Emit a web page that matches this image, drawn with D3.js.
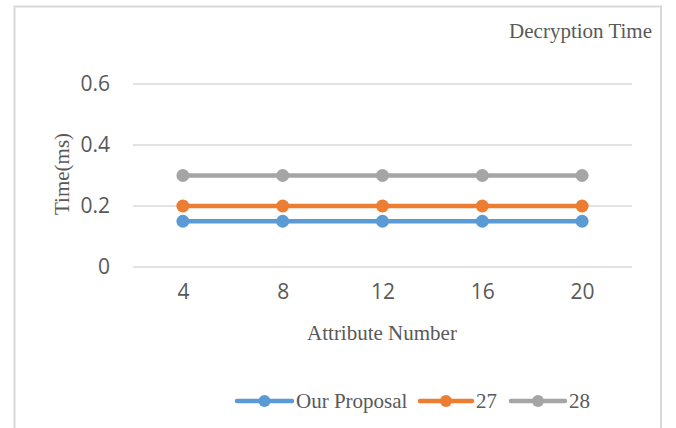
<!DOCTYPE html>
<html>
<head>
<meta charset="utf-8">
<script src="https://cdn.jsdelivr.net/npm/d3@7"></script>
<style>
  html, body { margin: 0; padding: 0; background: #fff; }
  svg { display: block; }
</style>
</head>
<body>
<script>
// Decryption time per attribute count
const categories = ["4", "8", "12", "16", "20"];
const seriesNames = ["Our Proposal", "27", "28"];
const ourProposal = [0.15, 0.15, 0.15, 0.15, 0.15];
const ref27 = [0.2, 0.2, 0.2, 0.2, 0.2];
const ref28 = [0.3, 0.3, 0.3, 0.3, 0.3];
const yTicks = [0, 0.2, 0.4, 0.6];
const yTickLabels = ["0", "0.2", "0.4", "0.6"];

const colors = ["#5B9BD5", "#ED7D31", "#A5A5A5"];
const series = [ourProposal, ref27, ref28];

const W = 676, H = 428;
const svg = d3.select("body").append("svg").attr("width", W).attr("height", H);

const tickFont = "'Open Sans', sans-serif";
const serifFont = "'Liberation Serif', serif";
const textColor = "#595959";

// chart frame
svg.append("rect")
  .attr("x", 14.5).attr("y", 6.5).attr("width", 646.5).attr("height", 440)
  .attr("fill", "none").attr("stroke", "#d9d9d9").attr("stroke-width", 2);

const x = d3.scalePoint().domain(categories).range([133, 632]).padding(0.5);
const y = d3.scaleLinear().domain([0, 0.6]).range([267, 84]);

// gridlines
svg.append("g").selectAll("line").data(yTicks).join("line")
  .attr("x1", 133).attr("x2", 632)
  .attr("y1", d => y(d)).attr("y2", d => y(d))
  .attr("stroke", "#d9d9d9").attr("stroke-width", 1.5);

// y tick labels
const yAxis = d3.axisLeft(y).tickValues(yTicks)
  .tickFormat((d, i) => yTickLabels[i]).tickSize(0).tickPadding(0);
const gy = svg.append("g").attr("transform", "translate(110,0)").call(yAxis);
gy.select(".domain").remove();
gy.selectAll("text")
  .attr("font-family", tickFont).attr("font-size", 21)
  .attr("fill", textColor);

// x tick labels
const xAxis = d3.axisBottom(x).tickSize(0).tickPadding(0);
const gx = svg.append("g").attr("transform", "translate(0,284)").call(xAxis);
gx.select(".domain").remove();
gx.selectAll("text")
  .attr("font-family", tickFont).attr("font-size", 21)
  .attr("fill", textColor);

// axis titles
svg.append("text")
  .attr("x", 382).attr("y", 340).attr("text-anchor", "middle")
  .attr("font-family", serifFont).attr("font-size", 21)
  .attr("fill", textColor).text("Attribute Number");

svg.append("text")
  .attr("transform", "translate(69,174) rotate(-90)").attr("text-anchor", "middle")
  .attr("font-family", serifFont).attr("font-size", 21)
  .attr("fill", textColor).text("Time(ms)");

svg.append("text")
  .attr("x", 652).attr("y", 38).attr("text-anchor", "end")
  .attr("font-family", serifFont).attr("font-size", 21)
  .attr("fill", textColor).text("Decryption Time");

// series lines and markers
const line = d3.line().x((d, i) => x(categories[i])).y(d => y(d));
series.forEach((vals, k) => {
  svg.append("path").datum(vals)
    .attr("d", line).attr("fill", "none")
    .attr("stroke", colors[k]).attr("stroke-width", 4.5);
  svg.append("g").selectAll("circle").data(vals).join("circle")
    .attr("cx", (d, i) => x(categories[i])).attr("cy", d => y(d))
    .attr("r", 6.5).attr("fill", colors[k]);
});

// legend
const legendItems = [
  { x0: 237, x1: 292, tx: 296 },
  { x0: 420, x1: 472, tx: 476 },
  { x0: 511, x1: 565, tx: 569 }
];
const ly = 401;
const lg = svg.append("g");
legendItems.forEach((it, k) => {
  lg.append("line").attr("x1", it.x0).attr("x2", it.x1).attr("y1", ly).attr("y2", ly)
    .attr("stroke", colors[k]).attr("stroke-width", 4.5).attr("stroke-linecap", "round");
  lg.append("circle").attr("cx", (it.x0 + it.x1) / 2).attr("cy", ly).attr("r", 6).attr("fill", colors[k]);
  lg.append("text").attr("x", it.tx).attr("y", ly + 7)
    .attr("font-family", serifFont).attr("font-size", 21)
    .attr("fill", textColor).text(seriesNames[k]);
});
</script>
</body>
</html>
